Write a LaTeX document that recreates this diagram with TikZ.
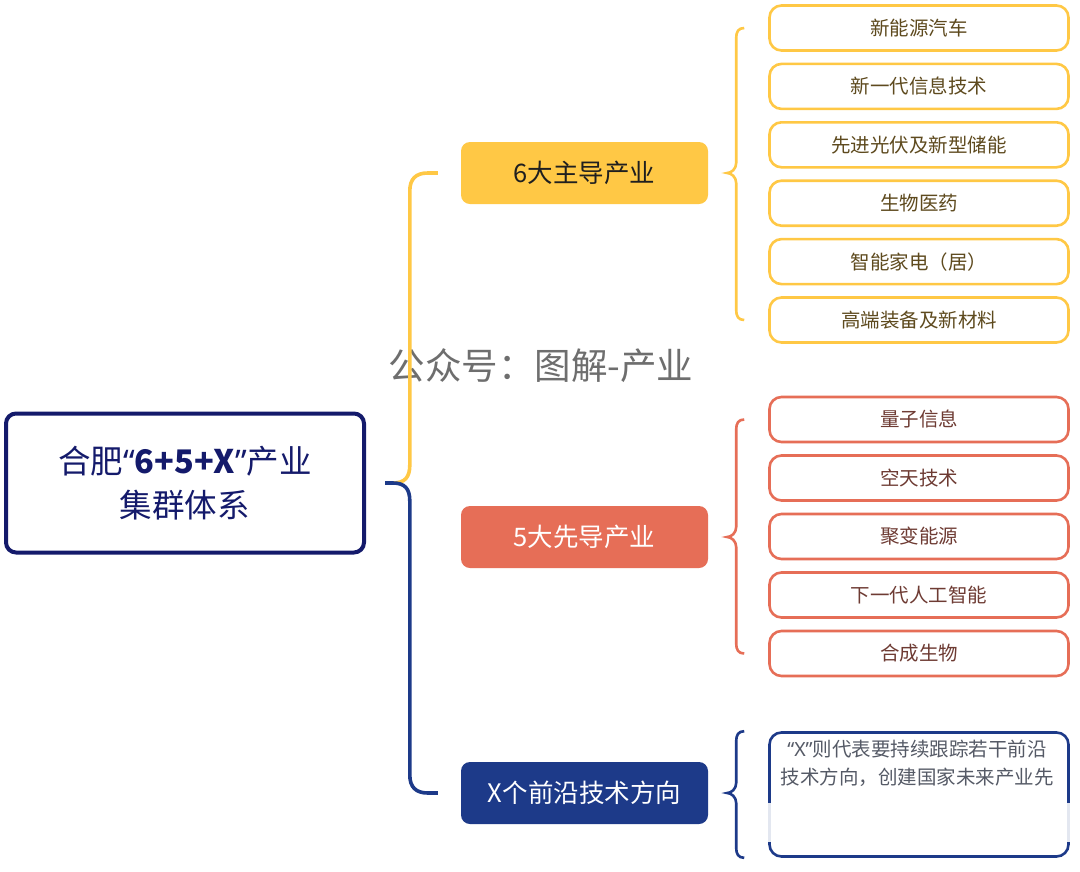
\documentclass[tikz,border=0pt]{standalone}
\usepackage{fontspec}
\setmainfont{Noto Sans CJK SC}
\newfontfamily\latf{Noto Sans}
\usetikzlibrary{calc}
\definecolor{yel}{HTML}{FFC845}
\definecolor{redc}{HTML}{E66E57}
\definecolor{navyb}{HTML}{1D3A89}
\definecolor{rootc}{HTML}{141A6B}
\definecolor{ytext}{HTML}{5E4A1E}
\definecolor{rtext}{HTML}{6E3B33}
\definecolor{xtext}{HTML}{555A66}
\definecolor{wmark}{HTML}{6E6E6E}
\newcommand{\mybrace}[4]{%
  \draw[#1]
   ($(#2)+(-24,0)$) .. controls +(-6,0) and +(0,-6) .. ($(#2)+(-32,10)$)
   -- ($(#2 |- #3.east)+(-32,-10)$) .. controls +(0,6) and +(4,0) .. ($(#3.east)+(19,0)$)
   .. controls +(4,0) and +(0,-6) .. ($(#2 |- #3.east)+(-32,10)$)
   -- ($(#4)+(-32,-10)$) .. controls +(0,6) and +(-6,0) .. ($(#4)+(-24,0)$);}
\begin{document}
\begin{tikzpicture}[x=1pt,y=-1pt,
  rootbox/.style={draw=rootc,line width=4pt,fill=white,rounded corners=10pt,
    minimum width=358pt,minimum height=139pt,align=center,text=rootc,
    font=\fontsize{32.5}{44}\selectfont},
  branch/.style={rounded corners=9pt,minimum width=247pt,minimum height=62pt,
    font=\fontsize{25.5}{30}\selectfont,inner sep=0pt},
  leaf/.style={draw=#1,line width=2.6pt,fill=white,rounded corners=12pt,
    minimum width=299pt,minimum height=45pt,inner sep=0pt,
    font=\fontsize{19.5}{24}\selectfont},
  yleaf/.style={leaf=yel,text=ytext},
  rleaf/.style={leaf=redc,text=rtext},
  yconn/.style={draw=yel,line width=3.6pt},
  nconn/.style={draw=navyb,line width=3.6pt},
  ybrace/.style={draw=yel,line width=2.6pt},
  rbrace/.style={draw=redc,line width=2.6pt},
  nbrace/.style={draw=navyb,line width=2.6pt}]
\useasboundingbox[fill=white] (0,0) rectangle (1080,871);

% watermark
\node[text=wmark,font=\fontsize{36.5}{40}\selectfont] (wm) at (541,366) {公众号：图解-产业};

% root
\node[rootbox] (root) at (185,483) {合肥{\latf“}{\bfseries 6+5+X}{\latf”}产业\\集群体系};

% branches
\node[branch,fill=yel,text=black!88] (ybr) at (584.5,173) {6大主导产业};
\node[branch,fill=redc,text=white] (rbr) at (584.5,537) {5大先导产业};
\node[branch,fill=navyb,text=white] (xbr) at (584.5,793) {X个前沿技术方向};

% yellow leaves
\node[yleaf] (y1) at (919,28) {新能源汽车};
\node[yleaf] (y2) at (919,86.4) {新一代信息技术};
\node[yleaf] (y3) at (919,144.8) {先进光伏及新型储能};
\node[yleaf] (y4) at (919,203.2) {生物医药};
\node[yleaf] (y5) at (919,261.6) {智能家电（居）};
\node[yleaf] (y6) at (919,320) {高端装备及新材料};

% red leaves
\node[rleaf] (r1) at (919,419.5) {量子信息};
\node[rleaf] (r2) at (919,478) {空天技术};
\node[rleaf] (r3) at (919,536.5) {聚变能源};
\node[rleaf] (r4) at (919,595) {下一代人工智能};
\node[rleaf] (r5) at (919,653.5) {合成生物};

% X leaf
\node[draw=navyb,line width=2.6pt,fill=white,rounded corners=12pt,
  minimum width=299pt,minimum height=124pt] (xl) at (919,794.5) {};
\node[anchor=north,text=xtext,align=center,inner sep=0pt,
  font=\fontsize{19.5}{28}\selectfont] (xt) at ($(xl.north)+(-2,9)$)
  {{\latf“X”}则代表要持续跟踪若干前沿\\技术方向，创建国家未来产业先};
\fill[white,opacity=0.88] (762,803) rectangle (1076,842);

% main connectors
\draw[yconn] ($(root.east)+(19,0)$) -- ++(8,0)
  .. controls +(12,0) and +(0,12) .. ($(ybr.west |- root.east)+(-51,-18)$)
  -- ($(ybr.west)+(-51,18)$)
  .. controls +(0,-12) and +(-12,0) .. ($(ybr.west)+(-33,0)$) -- ($(ybr.west)+(-23,0)$);
\draw[nconn] ($(root.east)+(19,0)$) -- ++(8,0)
  .. controls +(12,0) and +(0,-12) .. ($(xbr.west |- root.east)+(-51,18)$)
  -- ($(xbr.west)+(-51,-18)$)
  .. controls +(0,12) and +(-12,0) .. ($(xbr.west)+(-33,0)$) -- ($(xbr.west)+(-23,0)$);

% braces
\mybrace{ybrace}{y1.west}{ybr}{y6.west}
\mybrace{rbrace}{r1.west}{rbr}{r5.west}
\mybrace{nbrace}{xl.north west}{xbr}{xl.south west}
\end{tikzpicture}
\end{document}
